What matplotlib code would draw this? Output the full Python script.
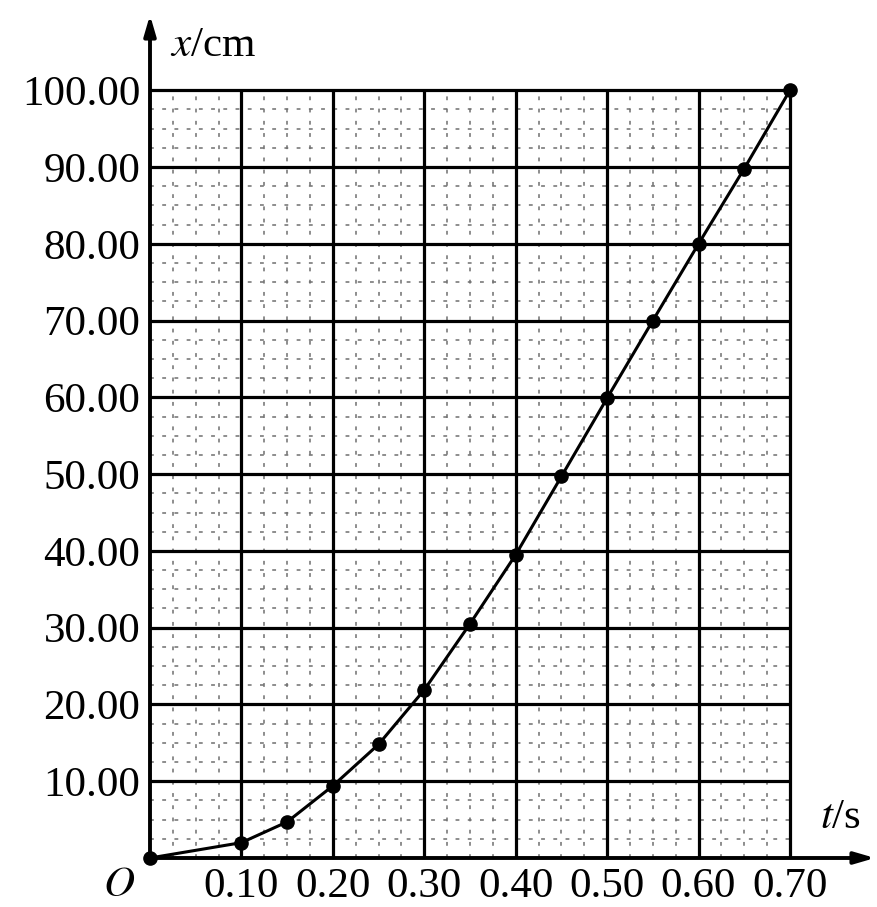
#!/usr/bin/env python3
"""
x-t graph of a falling object (position vs time) on graph paper.

Outputs:
    out.png
"""
import numpy as np
import matplotlib.pyplot as plt

t_s = [0.00, 0.10, 0.15, 0.20, 0.25, 0.30, 0.35, 0.40, 0.45, 0.50, 0.55, 0.60, 0.65, 0.70]
x_cm = [0.0, 2.0, 4.7, 9.4, 14.8, 21.9, 30.5, 39.5, 49.7, 59.9, 70.0, 80.0, 89.8, 100.0]

t_ticks = [0.10, 0.20, 0.30, 0.40, 0.50, 0.60, 0.70]
x_ticks = [10, 20, 30, 40, 50, 60, 70, 80, 90, 100]
t_labels = ["0.10", "0.20", "0.30", "0.40", "0.50", "0.60", "0.70"]
x_labels = ["10.00", "20.00", "30.00", "40.00", "50.00", "60.00", "70.00", "80.00", "90.00", "100.00"]

T_MAX, X_MAX = 0.70, 100.0
N_SUB = 4  # minor divisions per major cell
FS = 31

plt.rcParams["font.family"] = ["Liberation Serif", "DejaVu Serif"]


def main():
    fig = plt.figure(figsize=(8.78, 9.07), dpi=100)
    ax = fig.add_axes([150 / 878, 49 / 907, 725 / 878, 843 / 907])
    ax.set_xlim(0, 0.793)
    ax.set_ylim(0, 109.8)
    for s in ax.spines.values():
        s.set_visible(False)
    ax.tick_params(length=0)

    # minor dashed grid, only inside the paper
    dt = 0.1 / N_SUB
    dx = 10.0 / N_SUB
    minor_t = [i * dt for i in range(1, int(round(T_MAX / dt)) + 1) if i % N_SUB]
    minor_x = [i * dx for i in range(1, int(round(X_MAX / dx)) + 1) if i % N_SUB]
    ax.vlines(minor_t, 0, X_MAX, colors="#6f6f6f", linewidth=1.1,
              linestyles=(0, (2.5, 5.5)), zorder=1)
    ax.hlines(minor_x, 0, T_MAX, colors="#6f6f6f", linewidth=1.1,
              linestyles=(0, (2.5, 5.5)), zorder=1)

    # major grid
    ax.vlines(t_ticks, 0, X_MAX, colors="black", linewidth=2.3, zorder=2)
    ax.hlines(x_ticks, 0, T_MAX, colors="black", linewidth=2.3, zorder=2)

    # axes with arrows
    arrow = dict(arrowstyle="-|>,head_length=1.2,head_width=0.35", color="black",
                 lw=2.8, shrinkA=0, shrinkB=0)
    ax.annotate("", xy=(1, 0), xytext=(0, 0), xycoords="axes fraction",
                arrowprops=arrow, zorder=3)
    ax.annotate("", xy=(0, 1), xytext=(0, 0), xycoords="axes fraction",
                arrowprops=arrow, zorder=3)

    # data
    ax.plot(t_s, x_cm, color="black", linewidth=2.2, marker="o", markersize=9.5,
            zorder=4, clip_on=False)

    ax.set_xticks(t_ticks)
    ax.set_xticklabels(t_labels, fontsize=FS)
    ax.set_yticks(x_ticks)
    ax.set_yticklabels(x_labels, fontsize=FS)
    ax.tick_params(axis="x", pad=7)
    ax.tick_params(axis="y", pad=7)

    ax.text(0.022, 105.8, "$x$/cm", fontsize=FS, ha="left", va="center",
            math_fontfamily="stix")
    ax.text(0.733, 5.3, "$t$/s", fontsize=FS, ha="left", va="center",
            math_fontfamily="stix")
    ax.text(-0.016, -3.6, "$O$", fontsize=FS, ha="right", va="center",
            math_fontfamily="stix")

    fig.savefig("out.png", dpi=100)


if __name__ == "__main__":
    main()
